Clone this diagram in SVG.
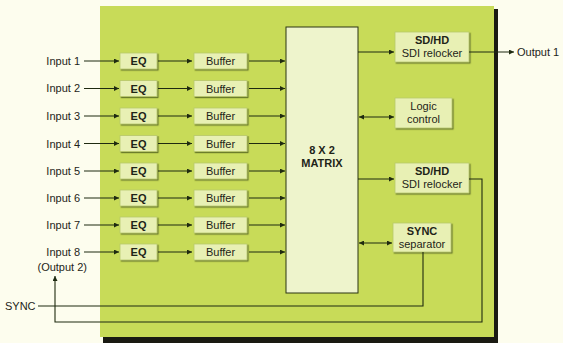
<svg xmlns="http://www.w3.org/2000/svg" width="563" height="343" viewBox="0 0 563 343">
<defs>
<marker id="ah" viewBox="0 0 10 10" refX="10" refY="5" markerWidth="7" markerHeight="5" orient="auto-start-reverse" markerUnits="userSpaceOnUse"><path d="M0,0 L10,5 L0,10 Z" fill="#1f2a10"/></marker>
<filter id="sh" x="-10%" y="-10%" width="130%" height="130%"><feDropShadow dx="1.2" dy="1.2" stdDeviation="0.6" flood-color="#3a4a10" flood-opacity="0.7"/></filter>
</defs>
<style>
.lbl{font-family:"Liberation Sans",Arial,sans-serif;font-size:11px;fill:#1e2418}
.bx{fill:#e8f0b4;stroke:#b7c86a;stroke-width:0.8;filter:url(#sh)}
.bt{font-family:"Liberation Sans",Arial,sans-serif;font-size:11px;fill:#1e2418;text-anchor:middle}
.bb{font-weight:bold}
.ln{stroke:#1f2a10;stroke-width:1.1;fill:none}
.ar{marker-end:url(#ah)}
.ar2{marker-start:url(#ah);marker-end:url(#ah)}
</style>
<rect x="0" y="0" width="563" height="343" fill="#fdfdee"/>
<g id="panel">
<rect x="103" y="9" width="395" height="334" fill="#1a1a12"/>
<rect x="100" y="6" width="394" height="331" fill="#c8db58"/>
</g>
<g id="matrix">
<rect x="286" y="27" width="72" height="266" fill="#eef4cc" stroke="#2b3512" stroke-width="1"/>
<text class="bt bb" x="322" y="154">8 X 2</text>
<text class="bt bb" x="322" y="167">MATRIX</text>
</g>
<g id="inputs">
<text class="lbl" x="80" y="65" text-anchor="end">Input 1</text>
<text class="lbl" x="80" y="92" text-anchor="end">Input 2</text>
<text class="lbl" x="80" y="120" text-anchor="end">Input 3</text>
<text class="lbl" x="80" y="148" text-anchor="end">Input 4</text>
<text class="lbl" x="80" y="175" text-anchor="end">Input 5</text>
<text class="lbl" x="80" y="202" text-anchor="end">Input 6</text>
<text class="lbl" x="80" y="229" text-anchor="end">Input 7</text>
<text class="lbl" x="80" y="256" text-anchor="end">Input 8</text>
<text class="lbl" x="87" y="271" text-anchor="end">(Output 2)</text>
<text class="lbl" x="5" y="310">SYNC</text>
<text class="lbl" x="517" y="56">Output 1</text>
</g>
<g id="eq">
<rect class="bx" x="120" y="53" width="37" height="16"/><text class="bt bb" x="138.5" y="65">EQ</text>
<rect class="bx" x="120" y="80.5" width="37" height="16"/><text class="bt bb" x="138.5" y="92.5">EQ</text>
<rect class="bx" x="120" y="108" width="37" height="16"/><text class="bt bb" x="138.5" y="120">EQ</text>
<rect class="bx" x="120" y="135.5" width="37" height="16"/><text class="bt bb" x="138.5" y="147.5">EQ</text>
<rect class="bx" x="120" y="163" width="37" height="16"/><text class="bt bb" x="138.5" y="175">EQ</text>
<rect class="bx" x="120" y="190" width="37" height="16"/><text class="bt bb" x="138.5" y="202">EQ</text>
<rect class="bx" x="120" y="217" width="37" height="16"/><text class="bt bb" x="138.5" y="229">EQ</text>
<rect class="bx" x="120" y="244" width="37" height="16"/><text class="bt bb" x="138.5" y="256">EQ</text>
</g>
<g id="buffers">
<rect class="bx" x="194" y="53" width="53" height="16"/><text class="bt" x="220.5" y="65">Buffer</text>
<rect class="bx" x="194" y="80.5" width="53" height="16"/><text class="bt" x="220.5" y="92.5">Buffer</text>
<rect class="bx" x="194" y="108" width="53" height="16"/><text class="bt" x="220.5" y="120">Buffer</text>
<rect class="bx" x="194" y="135.5" width="53" height="16"/><text class="bt" x="220.5" y="147.5">Buffer</text>
<rect class="bx" x="194" y="163" width="53" height="16"/><text class="bt" x="220.5" y="175">Buffer</text>
<rect class="bx" x="194" y="190" width="53" height="16"/><text class="bt" x="220.5" y="202">Buffer</text>
<rect class="bx" x="194" y="217" width="53" height="16"/><text class="bt" x="220.5" y="229">Buffer</text>
<rect class="bx" x="194" y="244" width="53" height="16"/><text class="bt" x="220.5" y="256">Buffer</text>
</g>
<g id="relocker1">
<rect class="bx" x="395" y="32" width="74" height="30"/>
<text class="bt bb" x="432" y="44">SD/HD</text>
<text class="bt" x="432" y="57">SDI relocker</text>
</g>
<g id="logic">
<rect class="bx" x="395" y="98" width="57" height="30"/>
<text class="bt" x="423.5" y="110">Logic</text>
<text class="bt" x="423.5" y="123">control</text>
</g>
<g id="relocker2">
<rect class="bx" x="395" y="163" width="74" height="30"/>
<text class="bt bb" x="432" y="175">SD/HD</text>
<text class="bt" x="432" y="188">SDI relocker</text>
</g>
<g id="syncsep">
<rect class="bx" x="393" y="223" width="58" height="29"/>
<text class="bt bb" x="422" y="235">SYNC</text>
<text class="bt" x="422" y="248">separator</text>
</g>
<g id="connectors">
<path class="ln ar" d="M84,61 H119"/>
<path class="ln ar" d="M84,88.5 H119"/>
<path class="ln ar" d="M84,116 H119"/>
<path class="ln ar" d="M84,143.5 H119"/>
<path class="ln ar" d="M84,171 H119"/>
<path class="ln ar" d="M84,198 H119"/>
<path class="ln ar" d="M84,225 H119"/>
<path class="ln ar" d="M84,252 H119"/>
<path class="ln ar" d="M158,61 H192"/>
<path class="ln ar" d="M158,88.5 H192"/>
<path class="ln ar" d="M158,116 H192"/>
<path class="ln ar" d="M158,143.5 H192"/>
<path class="ln ar" d="M158,171 H192"/>
<path class="ln ar" d="M158,198 H192"/>
<path class="ln ar" d="M158,225 H192"/>
<path class="ln ar" d="M158,252 H192"/>
<path class="ln ar" d="M249,61 H285"/>
<path class="ln ar" d="M249,88.5 H285"/>
<path class="ln ar" d="M249,116 H285"/>
<path class="ln ar" d="M249,143.5 H285"/>
<path class="ln ar" d="M249,171 H285"/>
<path class="ln ar" d="M249,198 H285"/>
<path class="ln ar" d="M249,225 H285"/>
<path class="ln ar" d="M249,252 H285"/>
<path class="ln ar" d="M358,52 H394"/>
<path class="ln ar2" d="M359,117 H394"/>
<path class="ln ar" d="M358,179 H394"/>
<path class="ln ar2" d="M359,243 H392"/>
<path class="ln ar" d="M469,52 H514"/>
<path class="ln ar" d="M469,179 H482 V322 H55 V276"/>
<path class="ln" d="M423,252 V306 H38"/>
</g>
</svg>
